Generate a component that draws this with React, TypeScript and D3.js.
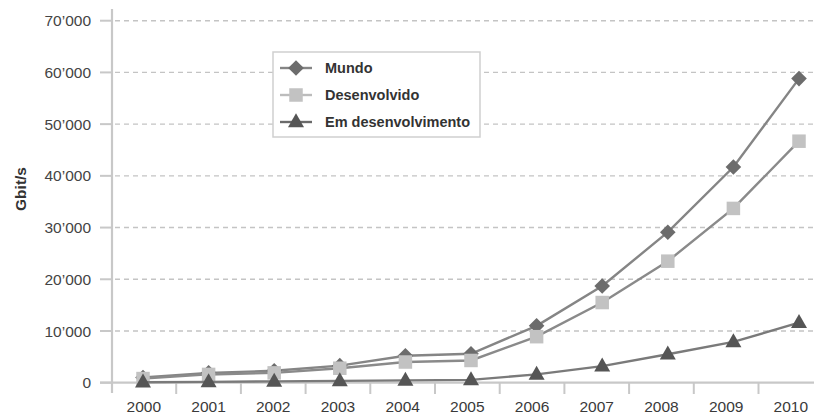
import React from "react";
import * as d3 from "d3";

const years = ["2000","2001","2002","2003","2004","2005","2006","2007","2008","2009","2010"];
const mundo = [1000, 1900, 2300, 3300, 5200, 5600, 11000, 18700, 29100, 41700, 58800];
const desenvolvido = [800, 1600, 1900, 2800, 4000, 4300, 8900, 15500, 23500, 33700, 46700];
const emDesenvolvimento = [100, 150, 250, 350, 450, 550, 1600, 3200, 5500, 7900, 11600];
const yTicks = [0, 10000, 20000, 30000, 40000, 50000, 60000, 70000];
const seriesNames = ["Mundo", "Desenvolvido", "Em desenvolvimento"];

const W = 814, H = 414;
const FONT = "'Liberation Sans', Arial, Helvetica, sans-serif";

const y = d3.scaleLinear().domain([0, 70000]).range([382.7, 20.7]);
const xPts = d3.scalePoint<string>().domain(years).range([143, 799]);
const xBand = d3.scaleBand<string>().domain(years).range([111.5, 111.5 + 64.7 * 11]);

const fmt = (v: number) => {
  if (v === 0) return "0";
  const s = String(v);
  return s.slice(0, s.length - 3) + "\u2019" + s.slice(s.length - 3);
};

type Kind = "diamond" | "square" | "triangle";
const series = [
  { name: seriesNames[0], values: mundo, kind: "diamond" as Kind, fill: "#6c6c6c", line: "#858585", legendLine: "#858585" },
  { name: seriesNames[1], values: desenvolvido, kind: "square" as Kind, fill: "#c2c2c2", line: "#8a8a8a", legendLine: "#bcbcbc" },
  { name: seriesNames[2], values: emDesenvolvimento, kind: "triangle" as Kind, fill: "#555555", line: "#7a7a7a", legendLine: "#6a6a6a" },
];

function Marker({ kind, cx, cy, fill }: { kind: Kind; cx: number; cy: number; fill: string }) {
  if (kind === "diamond") {
    const r = 7.8;
    return <path d={`M${cx},${cy - r}L${cx + r},${cy}L${cx},${cy + r}L${cx - r},${cy}Z`} fill={fill} />;
  }
  if (kind === "square") {
    const s = 13.5;
    return <rect x={cx - s / 2} y={cy - s / 2} width={s} height={s} fill={fill} />;
  }
  const w = 16, h = 14;
  return <path d={`M${cx},${cy - h * 0.62}L${cx + w / 2},${cy + h * 0.38}L${cx - w / 2},${cy + h * 0.38}Z`} fill={fill} />;
}

export default function App() {
  const line = d3.line<number>().x((_, i) => xPts(years[i])!).y((d) => y(d));
  const legendX = 273, legendY = 52, legendW = 207, legendH = 85;
  const rowY = [68, 95, 122];
  return (
    <svg width={W} height={H} style={{ position: "absolute", left: 0, top: 0, background: "#fff" }} fontFamily={FONT}>
      <rect x={0} y={0} width={W} height={H} fill="#fff" />
      {/* grid */}
      {yTicks.filter((t) => t > 0).map((t) => (
        <line key={"g" + t} x1={115} x2={W} y1={y(t)} y2={y(t)} stroke="#c4c4c4" strokeWidth={1.4} strokeDasharray="5,4" />
      ))}
      {/* y axis ticks & labels */}
      {yTicks.map((t) => (
        <g key={"t" + t}>
          <line x1={100} x2={112} y1={y(t)} y2={y(t)} stroke="#c8c8c8" strokeWidth={2} />
          <text x={91} y={y(t) + 5.6} textAnchor="end" fontSize={15.5} fill="#444">{fmt(t)}</text>
        </g>
      ))}
      {/* axes */}
      <line x1={112} x2={112} y1={9} y2={393} stroke="#c8c8c8" strokeWidth={2.2} />
      <line x1={100} x2={W} y1={y(0)} y2={y(0)} stroke="#c8c8c8" strokeWidth={2.2} />
      {d3.range(1, 12).map((k) => {
        const xx = 111.5 + 64.7 * k;
        return <line key={"xt" + k} x1={xx} x2={xx} y1={y(0)} y2={394} stroke="#c8c8c8" strokeWidth={2} />;
      })}
      {years.map((yr) => (
        <text key={yr} x={xBand(yr)! + xBand.bandwidth() / 2} y={411.5} textAnchor="middle" fontSize={15.5} fill="#3a3a3a">{yr}</text>
      ))}
      <text transform="translate(26,189) rotate(-90)" textAnchor="middle" fontSize={15.5} fontWeight="bold" fill="#333">Gbit/s</text>
      {/* series */}
      {series.map((s) => (
        <g key={s.name}>
          <path d={line(s.values)!} fill="none" stroke={s.line} strokeWidth={2.4} />
          {s.values.map((v, i) => (
            <Marker key={i} kind={s.kind} cx={xPts(years[i])!} cy={y(v)} fill={s.fill} />
          ))}
        </g>
      ))}
      {/* legend */}
      <rect x={legendX} y={legendY} width={legendW} height={legendH} fill="#fff" stroke="#cfcfcf" strokeWidth={1.5} />
      {series.map((s, i) => (
        <g key={"l" + s.name}>
          <line x1={280} x2={312} y1={rowY[i]} y2={rowY[i]} stroke={s.legendLine} strokeWidth={2.4} />
          <Marker kind={s.kind} cx={296} cy={rowY[i]} fill={s.fill} />
          <text x={325} y={rowY[i] + 5} fontSize={14.5} fontWeight="bold" fill="#333">{s.name}</text>
        </g>
      ))}
    </svg>
  );
}
